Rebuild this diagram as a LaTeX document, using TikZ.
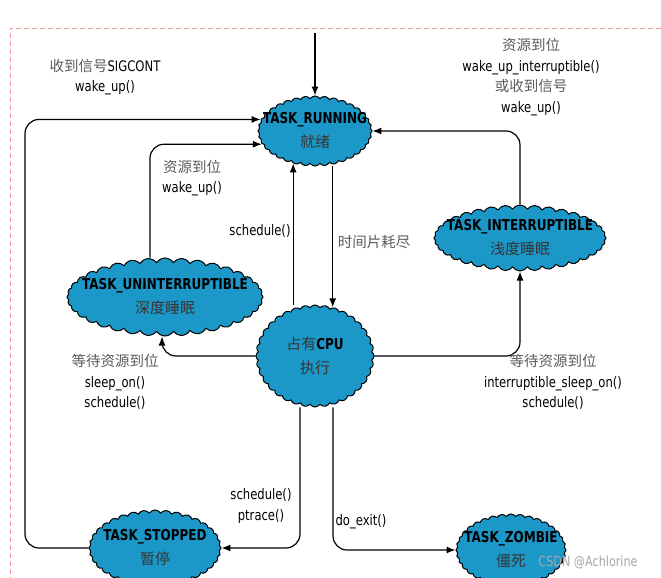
\documentclass[tikz,border=0pt]{standalone}
\usepackage{fontspec}
\setmainfont{DejaVu Sans}[FakeStretch=0.8]
\newfontfamily\cjk{Noto Sans CJK SC}
\usetikzlibrary{shapes.symbols,arrows.meta,backgrounds}

\definecolor{cloudblue}{HTML}{1B97C8}
\definecolor{framepink}{HTML}{EE9C9C}
\definecolor{labelgray}{HTML}{5A5A5A}

\begin{document}
\begin{tikzpicture}[x=1pt, y=-1pt, >={Latex[length=9pt,width=7pt]}]

	\tikzset{
	state/.style={cloud, cloud puffs=36, cloud puff arc=115, cloud ignores aspect, draw=black, fill=cloudblue, line width=1pt, align=center, inner xsep=-30pt, inner ysep=-12pt, font=\fontsize{15}{24}\selectfont},
	lbl/.style={align=center, inner sep=0pt, font=\fontsize{14.5}{20.5}\selectfont},
	gry/.style={text=labelgray},
	flow/.style={->, black, line width=1.2pt, rounded corners=14pt}
	}

	\useasboundingbox (0,0) rectangle (661,578);
	\clip (0,0) rectangle (661,578);

	% Frame
	\draw[framepink, line width=0.8pt, dash pattern=on 5pt off 3pt] (661,28) -- (10,28) -- (10,580);

	% Nodes
	\node[state, minimum width=114pt, minimum height=70pt] (running) at (315,131) {\textbf{TASK\_RUNNING}\\{\cjk\color{labelgray!60!black} 就绪}};
	\node[state, minimum width=172pt, minimum height=66pt] (intr) at (520,238) {\textbf{TASK\_INTERRUPTIBLE}\\{\cjk\color{labelgray!60!black} 浅度睡眠}};
	\node[state, minimum width=196pt, minimum height=78pt] (unintr) at (165,297) {\textbf{TASK\_UNINTERRUPTIBLE}\\{\cjk\color{labelgray!60!black} 深度睡眠}};
	\node[state, minimum width=118pt, minimum height=102pt] (cpu) at (315,356) {{\cjk\color{labelgray!60!black}占有}\textbf{CPU}\\{\cjk\color{labelgray!60!black} 执行}};
	\node[state, minimum width=132pt, minimum height=76pt] (stopped) at (155,548) {\textbf{TASK\_STOPPED}\\{\cjk\color{labelgray!60!black} 暂停}};
	\node[state, minimum width=110pt, minimum height=72pt] (zombie) at (511,550) {\textbf{TASK\_ZOMBIE}\\{\cjk\color{labelgray!60!black} 僵死}};

	\coordinate (start) at (315,33);
	\coordinate (lbend) at (25,300);

	% Labels
	\node[lbl] (txt1) at (105,77) {{\cjk\color{labelgray}收到信号}SIGCONT\\wake\_up()};
	\node[lbl] (txt2) at (531,77) {{\cjk\color{labelgray}资源到位}\\wake\_up\_interruptible()\\{\cjk\color{labelgray}或收到信号}\\wake\_up()};
	\node[lbl] (txt3) at (192,178) {{\cjk\color{labelgray}资源到位}\\wake\_up()};
	\node[lbl] (txt4) at (260,231) {schedule()};
	\node[lbl, gry] (txt5) at (374,242) {\cjk 时间片耗尽};
	\node[lbl] (txt6) at (115,382) {{\cjk\color{labelgray}等待资源到位}\\sleep\_on()\\schedule()};
	\node[lbl] (txt7) at (553,382) {{\cjk\color{labelgray}等待资源到位}\\interruptible\_sleep\_on()\\schedule()};
	\node[lbl] (txt8) at (261,506) {schedule()\\ptrace()};
	\node[lbl] (txt9) at (361,522) {do\_exit()};
	\node[lbl, text=gray!70, font=\fontsize{14}{16}\selectfont] (wmark) at (588,562) {CSDN @Achlorine};

	% Lines
	\begin{scope}[on background layer]
	\draw[flow] (start) -- (running.north);
	\draw[flow] (running.south -| cpu.70) -- (cpu.70);
	\draw[flow] (cpu.north -| running.236) -- (running.236);
	\draw[flow] ([xshift=-15pt]unintr.north) |- (running.194);
	\draw[flow] (stopped.west) -| (lbend) |- (running.168);
	\draw[flow] (intr.north) |- (running.east);
	\draw[flow] (cpu.west) -| ([xshift=-3pt]unintr.south);
	\draw[flow] (cpu.east) -| (intr.south);
	\draw[flow] ([xshift=-15pt]cpu.south) |- (stopped.east);
	\draw[flow] ([xshift=18pt]cpu.south) |- (zombie.west);
	\end{scope}

\end{tikzpicture}
\end{document}
